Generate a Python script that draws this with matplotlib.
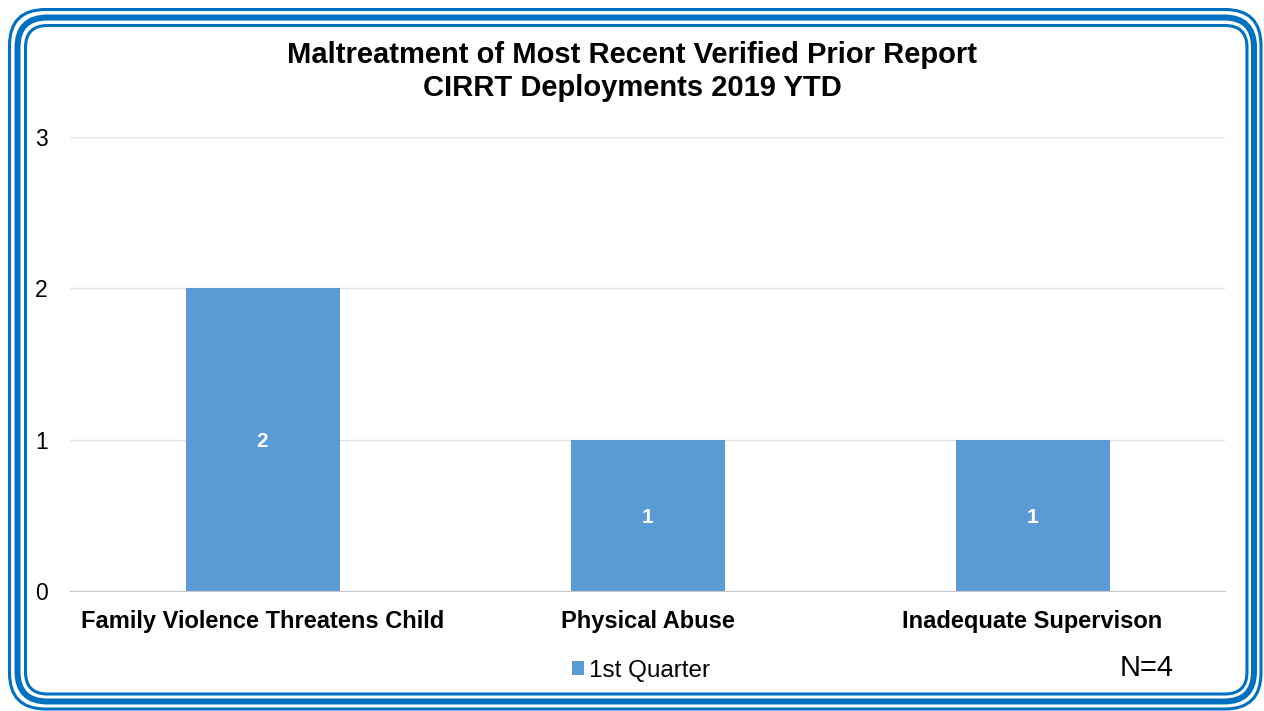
import matplotlib.pyplot as plt
from matplotlib.patches import FancyBboxPatch

categories = ['Family Violence Threatens Child', 'Physical Abuse', 'Inadequate Supervison']
q1_values = [2, 1, 1]
y_ticks = [0, 1, 2, 3]

plt.rcParams['font.family'] = ['Liberation Sans', 'DejaVu Sans']

W, H = 1264, 711
fig = plt.figure(figsize=(W / 100, H / 100), dpi=100)
ax = fig.add_axes([70 / W, 1 - 591 / H, 1155 / W, 454 / H])

bar_color = '#5B9BD5'
x = list(range(len(categories)))
bars = ax.bar(x, q1_values, width=0.4, color=bar_color, label='1st Quarter', zorder=3)
for b, v in zip(bars, q1_values):
    ax.text(b.get_x() + b.get_width() / 2, v / 2, str(v), ha='center', va='center_baseline',
            color='white', fontsize=15, fontweight='bold', zorder=4)

ax.set_xlim(-0.5, 2.5)
ax.set_ylim(0, 3)
ax.set_yticks(y_ticks)
ax.set_xticks(x)
ax.set_xticklabels(categories, fontsize=17, fontweight='bold')
ax.tick_params(axis='y', labelsize=16.5, length=0, pad=16)
ax.tick_params(axis='x', length=0, pad=14)
ax.grid(axis='y', color='#E3E3E3', linewidth=1, zorder=0)
for s in ['top', 'right', 'left']:
    ax.spines[s].set_visible(False)
ax.spines['bottom'].set_color('#C8C8C8')
ax.spines['bottom'].set_zorder(3)

fig.text(0.5, 1 - 55 / H, 'Maltreatment of Most Recent Verified Prior Report',
         ha='center', va='center', fontsize=21, fontweight='bold')
fig.text(0.5, 1 - 88 / H, 'CIRRT Deployments 2019 YTD',
         ha='center', va='center', fontsize=21, fontweight='bold')

leg = fig.legend(loc='center', bbox_to_anchor=(641 / W, 1 - 671 / H), frameon=False,
                 fontsize=17.5, handlelength=0.5, handleheight=0.5, handletextpad=0.2)
fig.text(1147 / W, 1 - 668 / H, 'N=4', ha='center', va='center', fontsize=21)

# triple rounded border, in pixel units
border_color = '#0070C0'
for (x0, y0, x1, y1, lw, r) in [(9.5, 9.5, 1261, 709, 2.2, 36),
                                (17.5, 17.5, 1254, 701.5, 4.3, 30),
                                (25.5, 25.5, 1247, 694, 2.2, 22)]:
    p = FancyBboxPatch((x0 / 100, (H - y1) / 100), (x1 - x0) / 100, (y1 - y0) / 100,
                       boxstyle='round,pad=0,rounding_size=%f' % (r / 100),
                       transform=fig.dpi_scale_trans, fill=False,
                       edgecolor=border_color, linewidth=lw)
    fig.patches.append(p)

fig.savefig('out.png', dpi=100)
